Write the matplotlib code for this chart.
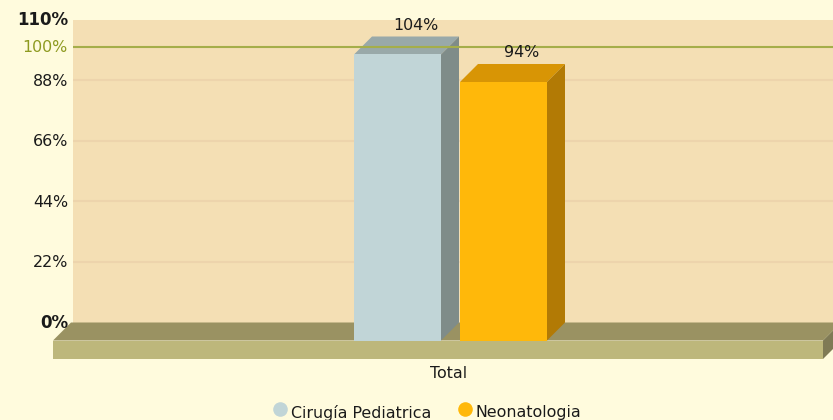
#!usr/bin/python3

import matplotlib
matplotlib.use('Agg')
import matplotlib.pyplot as plt
from matplotlib.lines import Line2D
from matplotlib.patches import Polygon

plt.rcParams['font.family'] = ['DejaVu Sans']

WIDTH, HEIGHT = 833, 420

category = 'Total'
series = ['Cirugía Pediatrica', 'Neonatologia']
values = [104, 94]
labels = ['104%', '94%']
tick_values = [22, 44, 66, 88]
front_colors = ['#C1D5D7', '#FFB80A']
top_colors = ['#99A9A9', '#D89505']
side_colors = ['#7F8C89', '#B27A05']

BG = '#FFFBDD'
WALL = '#F4DFB4'
GRID = '#EDD4AC'
TARGET = '#A5AE4A'
TEXT = '#1A1A1A'
FONT = 11.4
FONT_BOLD = 12

# x data are pixels measured from the middle of the group
DEPTH_X = 18
DEPTH_Y = 18 / 2.75
BAR_W = 87
bar_x = [-53, 53]
FLOOR_H = 18.5 / 2.75
FLOOR_L = -415.5
FLOOR_R = 354.5


def px(x, y):
    return x / WIDTH, 1 - y / HEIGHT


def poly(ax, points, color, zorder):
    ax.add_patch(Polygon(points, closed=True, facecolor=color, edgecolor='none',
                         clip_on=False, zorder=zorder))


fig = plt.figure(figsize=(WIDTH / 100, HEIGHT / 100), dpi=100, facecolor=BG)
ax = fig.add_axes([72.5 / WIDTH, (HEIGHT - 322.5) / HEIGHT, 760.5 / WIDTH, 303 / HEIGHT])
ax.set_facecolor(WALL)
ax.set_xlim(-396, 364.5)
ax.set_ylim(0, 110.18)
for s in ax.spines.values():
    s.set_visible(False)
ax.set_xticks([])
ax.set_yticks([])

for t in tick_values:
    ax.axhline(t, color=GRID, lw=1.5, zorder=1)
    ax.text(-400.5, t - 0.2, '%d%%' % t, ha='right', va='center', fontsize=FONT, color=TEXT, clip_on=False)
ax.text(-400.5, 100, '100%', ha='right', va='center', fontsize=FONT, color='#8E9A20', clip_on=False)
ax.text(-400.5, 110, '110%', ha='right', va='center', fontsize=FONT_BOLD, fontweight='bold', color=TEXT, clip_on=False)
ax.text(-400.5, 0, '0%', ha='right', va='center', fontsize=FONT_BOLD, fontweight='bold', color=TEXT, clip_on=False)

# floor
poly(ax, [(FLOOR_L, -DEPTH_Y), (FLOOR_L + DEPTH_X, 0), (FLOOR_R + DEPTH_X, 0), (FLOOR_R, -DEPTH_Y)], '#9A9262', 2)
poly(ax, [(FLOOR_L, -DEPTH_Y), (FLOOR_R, -DEPTH_Y), (FLOOR_R, -DEPTH_Y - FLOOR_H), (FLOOR_L, -DEPTH_Y - FLOOR_H)], '#BDB77B', 2)
poly(ax, [(FLOOR_R, -DEPTH_Y), (FLOOR_R + DEPTH_X, 0), (FLOOR_R + DEPTH_X, -FLOOR_H), (FLOOR_R, -DEPTH_Y - FLOOR_H)], '#7F7A55', 2)

# bars: the value is read at the back edge, the front face sits one depth forward
for i in range(len(series)):
    left = bar_x[i] - BAR_W / 2 - DEPTH_X
    right = left + BAR_W
    v = values[i]
    poly(ax, [(left, v - DEPTH_Y), (left + DEPTH_X, v), (right + DEPTH_X, v), (right, v - DEPTH_Y)], top_colors[i], 3)
    poly(ax, [(right, -DEPTH_Y), (right + DEPTH_X, 0), (right + DEPTH_X, v), (right, v - DEPTH_Y)], side_colors[i], 3)
    ax.bar(bar_x[i] - DEPTH_X, v, BAR_W, bottom=-DEPTH_Y, color=front_colors[i], zorder=3, clip_on=False)
    ax.text(bar_x[i], v + 4.1, labels[i], ha='center', va='center', fontsize=FONT, color=TEXT, zorder=6, clip_on=False)

ax.axhline(100, color=TARGET, lw=1.5, zorder=5)

x, y = px(449, 374)
fig.text(x, y, category, ha='center', va='center', fontsize=FONT, color=TEXT)

legend_marks = [280, 465]
legend_text = [291, 475]
for i in range(len(series)):
    x, y = px(legend_marks[i], 409)
    fig.add_artist(Line2D([x], [y], marker='o', ms=10.5, color=front_colors[i], mew=0, ls='none',
                          transform=fig.transFigure))
    x, y = px(legend_text[i], 413)
    fig.text(x, y, series[i], ha='left', va='center', fontsize=FONT, color=TEXT)

fig.savefig('out.png', dpi=100, facecolor=BG)
